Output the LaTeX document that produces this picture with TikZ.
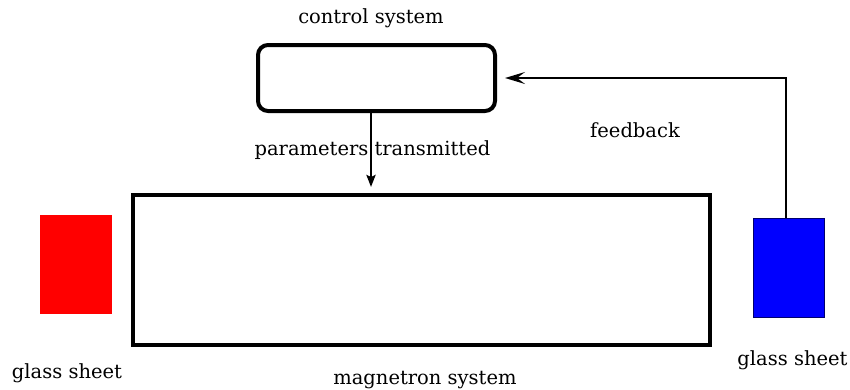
\documentclass[tikz,border=0pt]{standalone}
\usepackage{fontspec}
\setmainfont{DejaVu Serif}
\usetikzlibrary{arrows.meta}
\definecolor{sheetred}{RGB}{255,0,0}
\definecolor{sheetblue}{RGB}{0,0,255}
\definecolor{sheetedge}{RGB}{0,0,110}
\tikzset{
  lbl/.style={anchor=base, inner sep=0pt, font=\fontsize{19.5}{23}\selectfont},
  sysbox/.style={draw, line width=4pt, inner sep=0pt},
  sheet/.style={inner sep=0pt},
  conn/.style={line width=2.6pt},
}
\begin{document}
\begin{tikzpicture}[x=1pt,y=-1pt]
  \useasboundingbox (0,0) rectangle (850,389);
  % control unit and magnetron chamber
  \node[sysbox, rounded corners=10pt, minimum width=237pt, minimum height=66pt] (ctrl) at (376.5,78) {};
  \node[sysbox, minimum width=577pt, minimum height=150pt] (mag) at (421.5,270) {};
  % glass sheets on either side
  \node[sheet, fill=sheetred, minimum width=72pt, minimum height=99pt] (gin) at (76,264.5) {};
  \node[sheet, fill=sheetblue, draw=sheetedge, line width=0.8pt, minimum width=71pt, minimum height=99pt] (gout) at (788.5,267.5) {};
  % labels
  \node[lbl] (tctrl) at (371,23) {control system};
  \node[lbl] (tparam) at (372.5,155) {parameters transmitted};
  \node[lbl] (tfeed) at (635,137) {feedback};
  \node[lbl] (tgin) at (67,378) {glass sheet};
  \node[lbl] (tgout) at (792.5,365) {glass sheet};
  \node[lbl] (tmag) at (425,384) {magnetron system};
  % connectors
  \draw[conn, -{Stealth[length=12pt,width=9pt,inset=2pt]}, shorten >=6pt]
    ([xshift=-5.5pt]ctrl.south) -- ([xshift=-5.5pt]ctrl.south |- mag.north);
  \draw[conn, line width=2.2pt, -{Stealth[length=20pt,width=12pt,inset=8pt]}, shorten >=8pt]
    ([xshift=-2.5pt]gout.north) |- (ctrl.east);
\end{tikzpicture}
\end{document}
